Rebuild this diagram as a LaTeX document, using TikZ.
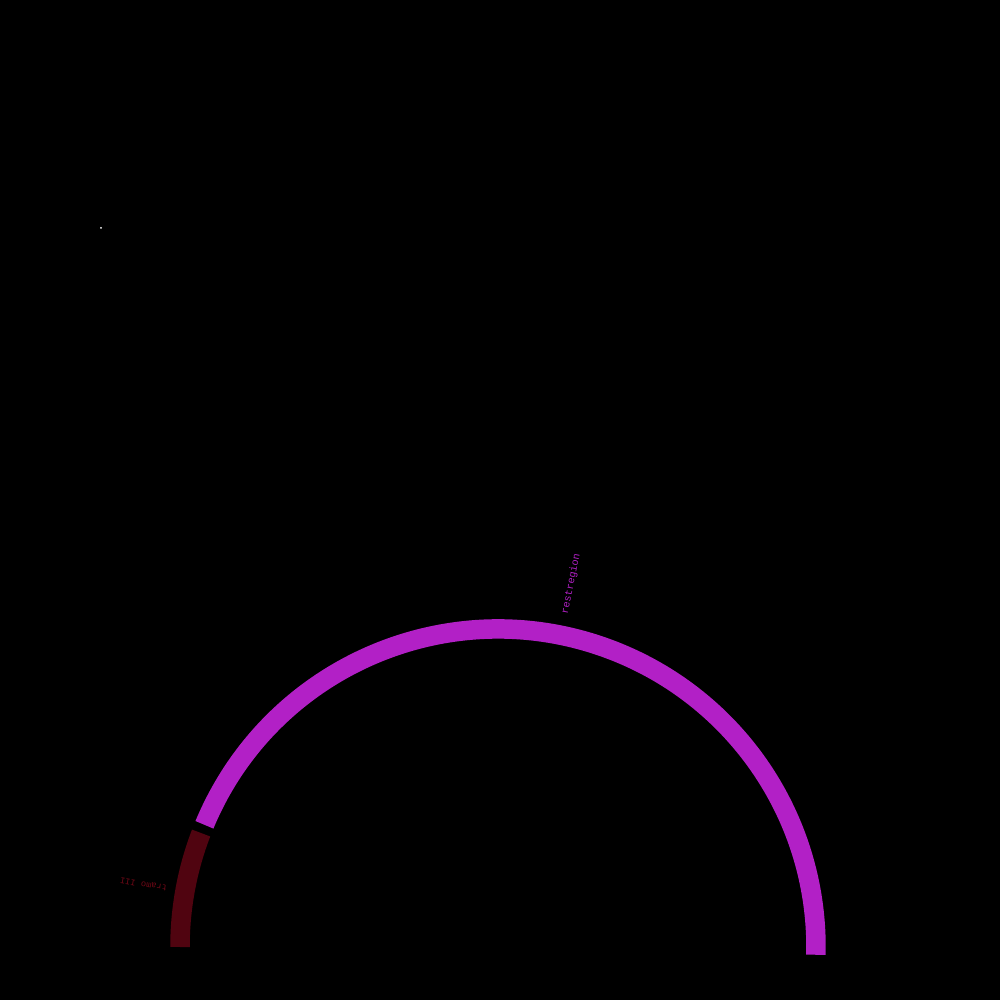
\documentclass[tikz,border=0pt]{standalone}
\usepackage{fontspec}
\setmonofont{Liberation Mono}
\usetikzlibrary{calc}
\definecolor{segpurple}{RGB}{178,32,198}
\definecolor{segred}{RGB}{80,4,16}
\definecolor{lblred}{RGB}{110,8,22}
\begin{document}
\begin{tikzpicture}[x=0.1mm,y=0.1mm,seg/.style={line width=1.95mm},lbl/.style={inner sep=0,font=\ttfamily\fontsize{2.9}{3}\selectfont}]
\fill[black](0,0)rectangle(1000,1000);
\useasboundingbox(0,0)rectangle(1000,1000);
\coordinate(c)at(498,53);
\draw[seg,segred](c)++(180:318)arc[start angle=180,end angle=159,radius=31.8mm];
\draw[seg,segpurple](c)++(157.4:318)arc[start angle=157.4,end angle=-1.4,radius=31.8mm];
\node[lbl,text=segpurple,rotate=78.6](rest)at($(c)+(78.6:370)$){restregion};
\node[lbl,text=lblred,rotate=170,font=\ttfamily\fontsize{2.5}{3}\selectfont](tramo)at($(c)+(170:360)$){tramo III};
\node[circle,fill=white,inner sep=0,minimum size=0.2mm](dot)at(101,772){};
\end{tikzpicture}
\end{document}
